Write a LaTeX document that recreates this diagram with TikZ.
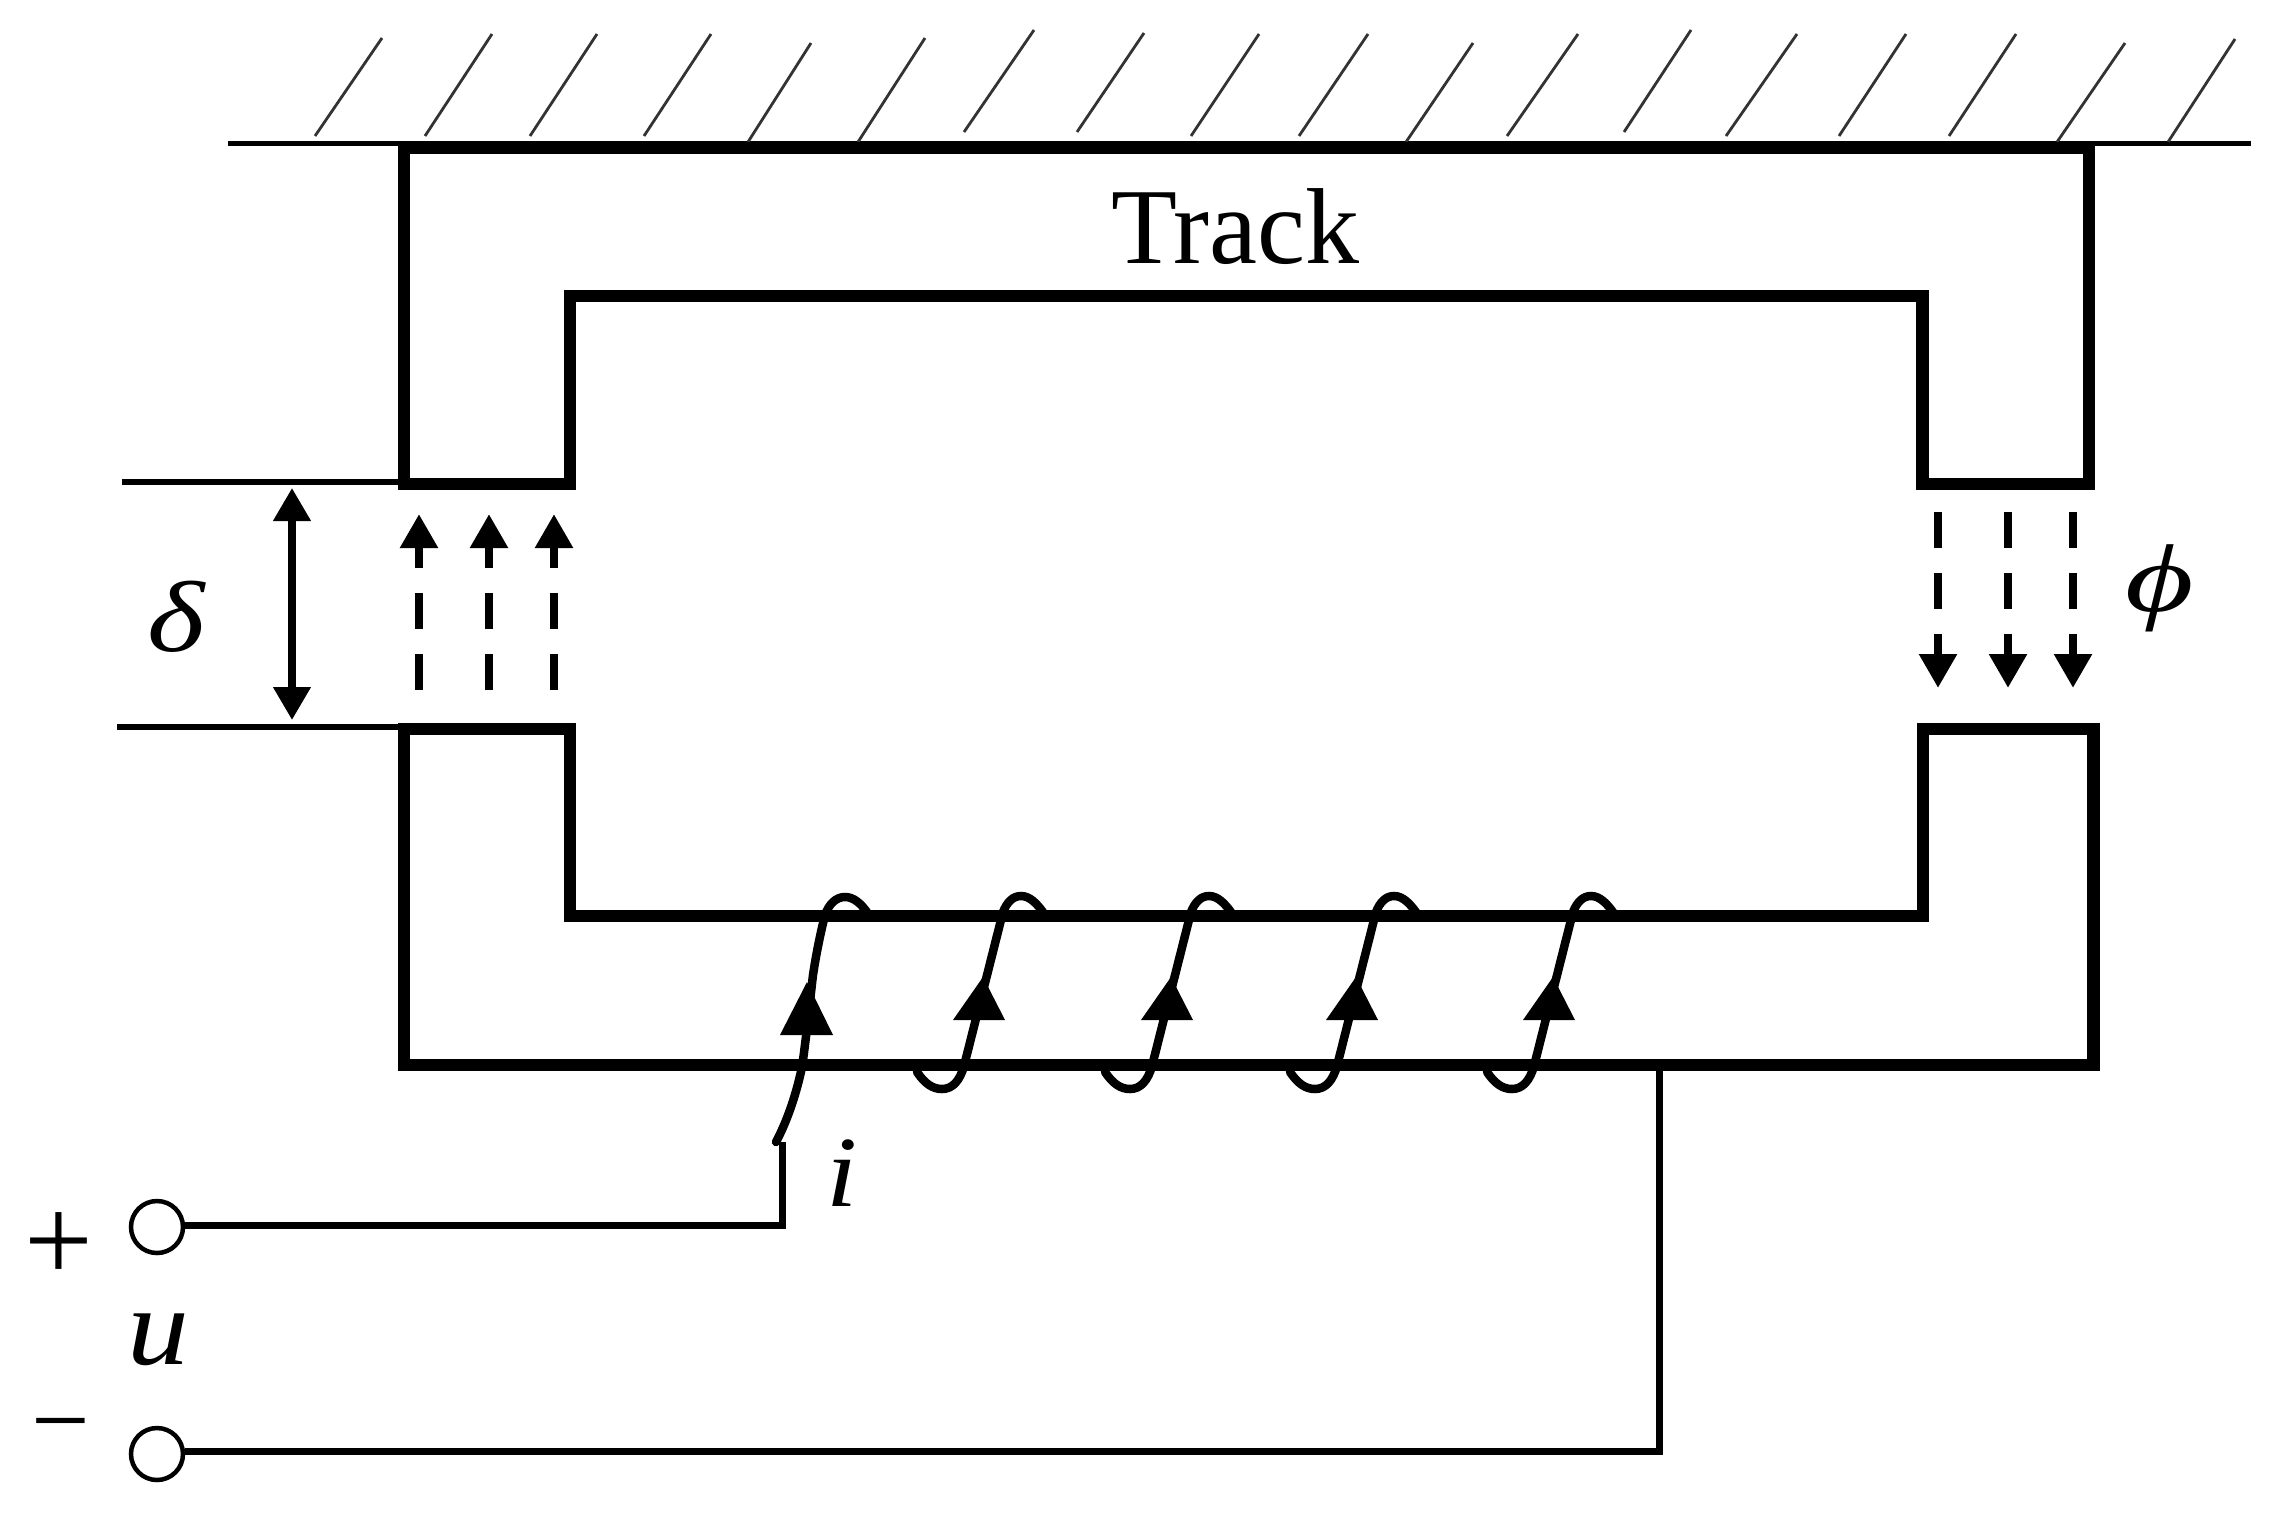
\documentclass[tikz,border=0pt]{standalone}
\usepackage{fontspec}
\setmainfont{Liberation Serif}
\usetikzlibrary{arrows.meta}
\newcommand{\bigsize}[1]{\fontsize{#1}{#1}\selectfont}
\tikzset{
  hatch/.style={line width=2.8pt,draw=black!80},
  ground/.style={line width=5pt},
  core/.style={line width=12.5pt,miter limit=10,line join=miter},
  leader/.style={line width=6.5pt},
  wire/.style={line width=7pt,line join=miter},
  coilwire/.style={line width=8.5pt,line cap=round},
  gaparrow/.style={line width=8.5pt,dash pattern=on 36pt off 25pt,-{Triangle[width=36pt,length=34pt]}},
  dimarrow/.style={line width=7.5pt,{Triangle[width=36pt,length=33pt]}-{Triangle[width=36pt,length=33pt]}},
  terminal/.style={circle,draw,line width=4.5pt,minimum size=52pt,inner sep=0pt,fill=white},
  label/.style={inner sep=0pt,anchor=base},
}
\begin{document}
\begin{tikzpicture}[x=1pt,y=-1pt]
\useasboundingbox (0,0) rectangle (2282,1518);
% ground
\draw[ground] (228,143) -- (2251,143);
\foreach \xa/\ya/\xb/\yb in {315/136/382/38,425/136/492/34,530/136/597/34,644/136/711/34,748/142/811/43,858/142/925/38,964/132/1034/30,1077/132/1144/33,1191/136/1259/34,1299/136/1368/34,1406/142/1473/43,1507/136/1578/34,1624/132/1691/30,1726/136/1797/34,1839/136/1906/34,1949/136/2016/34,2057/142/2125/43,2168/142/2235/39}
  \draw[hatch] (\xa,\ya) -- (\xb,\yb);
% core parts
\draw[core] (404,484) -- (404,148) -- (2089,148) -- (2089,484) -- (1922.5,484) -- (1922.5,296) -- (570,296) -- (570,484) -- cycle;
\draw[core] (404,729) -- (404,1065) -- (2093.5,1065) -- (2093.5,729) -- (1923,729) -- (1923,916) -- (570,916) -- (570,729) -- cycle;
% gap leaders
\draw[leader] (122,482) -- (400,482);
\draw[leader] (117,727) -- (400,727);
\draw[dimarrow] (292,488) -- (292,720);
% flux arrows
\foreach \x in {419,489,554}
  \draw[gaparrow] (\x,690) -- (\x,514);
\foreach \x in {1938,2008,2073}
  \draw[gaparrow] (\x,512) -- (\x,688);
% coils
\draw[coilwire] (776,1142) .. controls (785,1125) and (795,1100) .. (802,1067) .. controls (806,1040) and (810,1000) .. (813,975) .. controls (816,955) and (820,935) .. (825,915) .. controls (829,904) and (836,897) .. (845,897) .. controls (854,897) and (861,904) .. (867,912);
\fill (780,1035) -- (833,1035) -- (807,982) -- cycle;
\foreach \dx in {0,188,373,570}{
  \begin{scope}[xshift=\dx pt]
    \draw[coilwire] (917,1072) .. controls (925,1084) and (933,1089) .. (942,1089) .. controls (953,1089) and (960,1080) .. (964,1066) -- (1003,912) .. controls (1007,902) and (1013,896) .. (1021,896) .. controls (1030,896) and (1037,904) .. (1043,912);
    \fill (953,1020) -- (1005,1020) -- (983,977) -- cycle;
  \end{scope}
}
% terminals and wires
\node[terminal] (plusT) at (157,1227) {};
\node[terminal] (minusT) at (157,1454) {};
\coordinate (jA) at (782,1225);
\coordinate (jB) at (782,1142);
\coordinate (jC) at (1659,1451);
\coordinate (jD) at (1659,1068);
\draw[wire] (plusT.east |- jA) -- (jA) -- (jB);
\draw[wire] (minusT.east |- jC) -- (jC) -- (jD);
% labels
\node[label] (track) at (1235,263) {\bigsize{108}Track};
\node[label] (delta) at (176,651) {\scalebox{1.1}[0.9]{\bigsize{112}\itshape δ}};
\node[label] (phi) at (2160,611) {\scalebox{1.18}[0.86]{\bigsize{112}\itshape ϕ}};
\node[label] (ulabel) at (158,1364) {\scalebox{1.03}[0.92]{\bigsize{120}\itshape u}};
\node[label] (ilabel) at (842,1206) {\scalebox{1}[0.9]{\bigsize{112}\itshape i}};
\node[label] (plussign) at (59,1281) {\bigsize{122}+};
\node[label] (minussign) at (61,1455) {\bigsize{104}−};
\end{tikzpicture}
\end{document}
